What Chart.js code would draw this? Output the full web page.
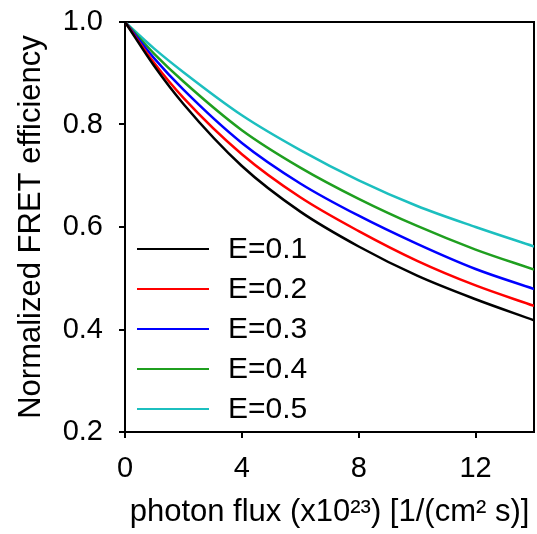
<!DOCTYPE html>
<html>
<head>
<meta charset="utf-8">
<script src="https://cdn.jsdelivr.net/npm/chart.js@4/dist/chart.umd.min.js"></script>
<style>
  body { margin: 0; background: #fff; }
  #wrap { width: 537px; height: 534px; }
</style>
</head>
<body>
<div id="wrap"><canvas id="fret"></canvas></div>
<script>
// photon flux (x10^23)
const flux = [0, 1, 2, 4, 6, 8, 10, 12, 14];
const e01 = [1.000, 0.914, 0.840, 0.719, 0.630, 0.562, 0.505, 0.459, 0.418];
const e02 = [1.000, 0.920, 0.852, 0.742, 0.658, 0.592, 0.534, 0.486, 0.446];
const e03 = [1.000, 0.929, 0.868, 0.764, 0.685, 0.622, 0.567, 0.518, 0.479];
const e04 = [1.000, 0.938, 0.884, 0.789, 0.716, 0.655, 0.602, 0.556, 0.517];
const e05 = [1.000, 0.948, 0.902, 0.818, 0.750, 0.691, 0.641, 0.600, 0.562];
const seriesNames = ['E=0.1', 'E=0.2', 'E=0.3', 'E=0.4', 'E=0.5'];
const seriesColors = ['#000000', '#ff0000', '#0000ff', '#1f9f1f', '#1cbfbf'];
const xTicks = [0, 4, 8, 12];
const yTicks = [0.2, 0.4, 0.6, 0.8, 1.0];

const allSeries = [e01, e02, e03, e04, e05];

const datasets = allSeries.map((vals, i) => ({
  label: seriesNames[i],
  data: flux.map((x, j) => ({ x: x, y: vals[j] })),
  borderColor: seriesColors[i],
  borderWidth: 2.5,
  pointRadius: 0,
  fill: false,
  cubicInterpolationMode: 'monotone'
}));

// frame round the plot area, drawn under the curves
const frame = {
  id: 'frame',
  beforeDatasetsDraw(chart) {
    const { ctx, chartArea: a } = chart;
    ctx.save();
    ctx.strokeStyle = '#000';
    ctx.lineWidth = 2;
    ctx.strokeRect(a.left, a.top, a.right - a.left, a.bottom - a.top);
    ctx.restore();
  }
};

// legend inside the plot, lower left
const innerLegend = {
  id: 'innerLegend',
  afterDatasetsDraw(chart) {
    const { ctx, chartArea: a } = chart;
    ctx.save();
    ctx.font = '30px "Liberation Sans", Arial, sans-serif';
    ctx.textBaseline = 'middle';
    ctx.textAlign = 'left';
    chart.data.datasets.forEach((ds, i) => {
      const y = a.bottom - 23 - (chart.data.datasets.length - 1 - i) * 40;
      ctx.strokeStyle = ds.borderColor;
      ctx.lineWidth = 2;
      ctx.beginPath();
      ctx.moveTo(a.left + 12, y);
      ctx.lineTo(a.left + 84, y);
      ctx.stroke();
      ctx.fillStyle = '#000';
      ctx.fillText(ds.label, a.left + 103, y + 1);
    });
    ctx.restore();
  }
};

const font = '"Liberation Sans", Arial, sans-serif';

new Chart(document.getElementById('fret'), {
  type: 'line',
  data: { datasets: datasets },
  options: {
    responsive: true,
    maintainAspectRatio: false,
    animation: false,
    layout: { padding: { top: 22, right: 3, left: 0, bottom: 0 } },
    plugins: { legend: { display: false }, tooltip: { enabled: false } },
    scales: {
      x: {
        type: 'linear',
        min: 0,
        max: 14,
        afterBuildTicks: s => { s.ticks = xTicks.map(v => ({ value: v })); },
        afterFit: s => { s.height = 102; s.paddingLeft = 0; s.paddingRight = 0; },
        border: { display: false },
        grid: { drawOnChartArea: false, drawTicks: true, tickLength: 6, color: '#000', lineWidth: 2 },
        ticks: { color: '#000', padding: 14, maxRotation: 0, font: { family: font, size: 29 } },
        title: {
          display: true,
          text: 'photon flux (x10²³) [1/(cm² s)]',
          color: '#000',
          padding: { top: 0, bottom: 3 },
          font: { family: font, size: 31 }
        }
      },
      y: {
        min: 0.2,
        max: 1.0,
        afterBuildTicks: s => { s.ticks = yTicks.map(v => ({ value: v })); },
        afterFit: s => { s.width = 125; s.paddingTop = 0; s.paddingBottom = 0; },
        border: { display: false },
        grid: { drawOnChartArea: false, drawTicks: true, tickLength: 6, color: '#000', lineWidth: 2 },
        ticks: {
          color: '#000',
          padding: 16,
          font: { family: font, size: 29 },
          callback: v => v.toFixed(1)
        },
        title: {
          display: true,
          text: 'Normalized FRET efficiency',
          color: '#000',
          padding: { top: 13, bottom: 0 },
          font: { family: font, size: 31 }
        }
      }
    }
  },
  plugins: [frame, innerLegend]
});
</script>
</body>
</html>
